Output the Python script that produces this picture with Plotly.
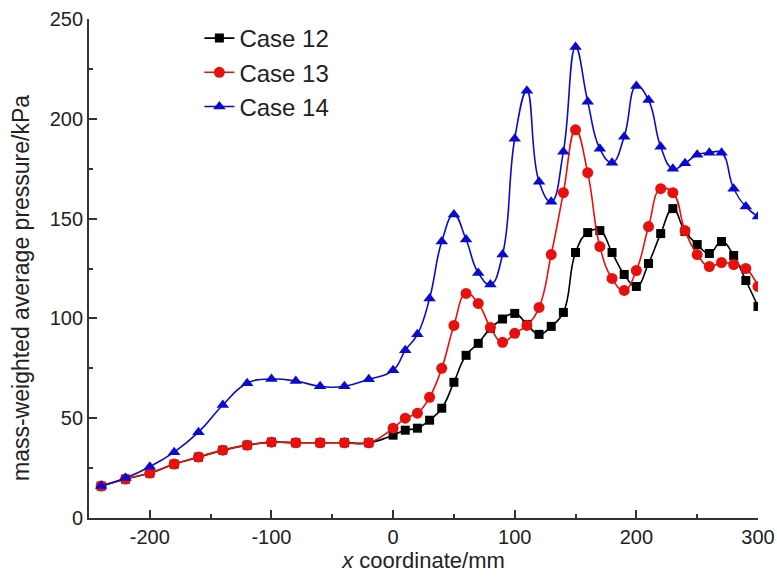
import plotly.graph_objects as go

x_left = [-240, -220, -200, -180, -160, -140, -120, -100, -80, -60, -40, -20]
x_right = [0, 10, 20, 30, 40, 50, 60, 70, 80, 90, 100, 110, 120, 130, 140, 150,
           160, 170, 180, 190, 200, 210, 220, 230, 240, 250, 260, 270, 280, 290, 300]
x_vals = x_left + x_right

case12 = [16, 19.5, 22.5, 27, 30.5, 34, 36.5, 38, 37.7, 37.7, 37.7, 37.7,
          41.5, 44, 45, 49, 55, 68, 81.5, 87.5, 95, 99.7, 102.5, 97, 92, 96, 103, 133,
          143, 144, 133, 122, 116, 127.5, 142.5, 155, 143.5, 137, 132.5, 138.5, 131.5, 119, 106]
case13 = [16, 19.5, 22.5, 27, 30.5, 34, 36.5, 38, 37.7, 37.7, 37.7, 37.7,
          45, 50, 52.5, 60.5, 75, 96.5, 112.5, 107.5, 95.5, 88, 92.5, 96.5, 105.5, 132, 163, 194.5,
          173, 136, 120, 114, 124, 146, 165, 163, 144, 132, 126, 128, 127, 125, 116]
case14 = [16, 20, 25.7, 33, 43, 56.6, 67.5, 69.6, 68.6, 66, 66, 69.5,
          74, 84, 92, 110, 138.5, 152, 139.5, 122.8, 117, 132, 190, 214, 168.5, 158.5, 183.5, 236,
          208.6, 185, 178, 191, 216.4, 209.4, 186, 175, 177.7, 182, 183, 183, 165, 156, 151]

x_tickvals = [-200, -100, 0, 100, 200, 300]
x_ticktext = ["-200", "-100", "0", "100", "200", "300"]
y_tickvals = [0, 50, 100, 150, 200, 250]
y_ticktext = ["0", "50", "100", "150", "200", "250"]

names = ["Case 12", "Case 13", "Case 14"]
colors = ["#000000", "#e8100c", "#0a0ad0"]
symbols = ["square", "circle", "triangle-up"]
sizes = [9, 11, 11]

fig = go.Figure()
for ys, nm, c, s, sz in zip([case12, case13, case14], names, colors, symbols, sizes):
    fig.add_trace(go.Scatter(
        x=x_vals, y=ys, name=nm, mode="lines+markers",
        line=dict(color=c, width=1.6, shape="spline", smoothing=1.3),
        marker=dict(symbol=s, size=sz, color=c),
    ))

font_family = "Liberation Sans, Arial, sans-serif"
axis_common = dict(ticks="inside", ticklen=8, tickwidth=1.5, tickcolor="#333",
                   showline=True, linecolor="#333", linewidth=1.8, mirror=False,
                   showgrid=False, zeroline=False, automargin=False,
                   tickfont=dict(size=20, family=font_family, color="#222"))
fig.update_layout(
    width=777, height=578,
    margin=dict(l=89, r=19, t=19, b=60),
    paper_bgcolor="white", plot_bgcolor="white",
    font=dict(family=font_family, color="#222222"),
    showlegend=True,
    legend=dict(x=0.165, y=1.006, xanchor="left", yanchor="top",
                font=dict(size=24, family=font_family, color="#222222"),
                bgcolor="rgba(255,255,255,0)", tracegroupgap=0),
    xaxis=dict(range=[-250, 300], tickvals=x_tickvals, ticktext=x_ticktext,
               minor=dict(ticks="inside", ticklen=4, tickwidth=1.5, tickcolor="#333", dtick=50, tick0=-250),
               title=dict(text="<i>x</i> coordinate/mm", font=dict(size=22, family=font_family, color="#222"), standoff=2),
               **axis_common),
    yaxis=dict(range=[0, 250], tickvals=y_tickvals, ticktext=y_ticktext,
               minor=dict(ticks="inside", ticklen=4, tickwidth=1.5, tickcolor="#333", dtick=25, tick0=0),
               **axis_common),
    annotations=[dict(text="mass-weighted average pressure/kPa", xref="paper", yref="paper",
                      x=-0.1016, y=0.461, xanchor="center", yanchor="middle", textangle=-90,
                      showarrow=False, font=dict(size=23, family=font_family, color="#222"))],
)

fig.write_html("out.html")
